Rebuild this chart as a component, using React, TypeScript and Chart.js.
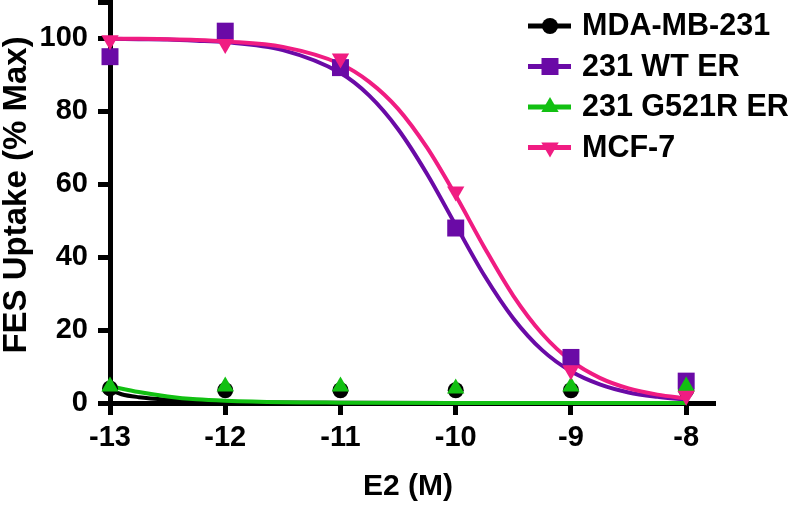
import React, { useEffect, useRef } from 'react';
import { Chart, registerables } from 'chart.js';

Chart.register(...registerables);

// ---- data ----
const seriesLabels = ['MDA-MB-231', '231 WT ER', '231 G521R ER', 'MCF-7'];
const seriesColors = ['#000000', '#6a0aa6', '#12c012', '#f01c82'];
const seriesMarkers = ['circle', 'rect', 'triangle', 'invTriangle'];

const doseLog = [-13, -12, -11, -10, -9, -8];
const xTickLabels = ['-13', '-12', '-11', '-10', '-9', '-8'];
const yTickValues = [0, 20, 40, 60, 80, 100];

const mdaValues = [4, 3.5, 3.5, 3.5, 3.5, 3.5];
const wtValues = [95, 102, 92, 48, 12.5, 6];
const g521rValues = [4.5, 4.5, 4.5, 4, 4.5, 4.5];
const mcf7Values = [99.5, 98.5, 94.5, 58, 9, 2];

// fitted curves
const mdaFitX = [-13, -12.9, -12.75, -12.5, -12.25, -12, -11.5, -11, -10, -8];
const mdaFitY = [3.6, 2.4, 1.6, 0.9, 0.5, 0.3, 0.15, 0.08, 0.02, 0];
const g521rFitX = [-13, -12.75, -12.5, -12.25, -12, -11.5, -11, -10, -8];
const g521rFitY = [4.6, 3.0, 1.8, 1.0, 0.6, 0.2, 0.1, 0.02, 0];
const fitX = [-13, -12.75, -12.5, -12.25, -12, -11.5, -11, -10.75, -10.5, -10.25, -10, -9.75, -9.5, -9.25, -9, -8.75, -8.5, -8.25, -8];
const wtFitY = [99.9, 99.8, 99.7, 99.4, 99.0, 96.8, 90.5, 84.3, 75.1, 62.9, 48.8, 34.9, 23.2, 14.5, 8.7, 5.1, 2.9, 1.7, 0.9];
const mcf7FitY = [99.9, 99.9, 99.8, 99.6, 99.2, 97.7, 93.0, 88.1, 80.7, 70.1, 56.9, 42.6, 29.4, 19.0, 11.6, 6.9, 4.0, 2.3, 1.3];

const xTitle = 'E2 (M)';
const yTitle = 'FES Uptake (% Max)';

const FONT = '"Liberation Sans", Arial, Helvetica, sans-serif';

function pts(xs: number[], ys: number[]) {
  return xs.map((x, i) => ({ x, y: ys[i] }));
}

function drawMarker(ctx: CanvasRenderingContext2D, kind: string, x: number, y: number, color: string) {
  ctx.save();
  ctx.fillStyle = color;
  ctx.beginPath();
  if (kind === 'circle') {
    ctx.arc(x, y, 8, 0, Math.PI * 2);
  } else if (kind === 'rect') {
    ctx.rect(x - 8.5, y - 8.5, 17, 17);
  } else if (kind === 'triangle') {
    ctx.moveTo(x, y - 10);
    ctx.lineTo(x + 8.7, y + 5);
    ctx.lineTo(x - 8.7, y + 5);
  } else {
    ctx.moveTo(x, y + 10);
    ctx.lineTo(x + 8.7, y - 5);
    ctx.lineTo(x - 8.7, y - 5);
  }
  ctx.closePath();
  ctx.fill();
  ctx.restore();
}

const overlayPlugin = {
  id: 'overlay',
  afterDraw(chart: any) {
    const ctx: CanvasRenderingContext2D = chart.ctx;
    // legend
    ctx.save();
    seriesLabels.forEach((label, i) => {
      const y = 26 + i * 40.5;
      ctx.strokeStyle = seriesColors[i];
      ctx.lineWidth = 5;
      ctx.beginPath();
      ctx.moveTo(528, y);
      ctx.lineTo(571, y);
      ctx.stroke();
      drawMarker(ctx, seriesMarkers[i], 550, y, seriesColors[i]);
      ctx.fillStyle = '#000';
      ctx.font = `bold 30.5px ${FONT}`;
      ctx.textBaseline = 'middle';
      ctx.textAlign = 'left';
      ctx.fillText(label, 582, y + 1);
    });
    // axis titles
    ctx.fillStyle = '#000';
    ctx.font = `bold 30px ${FONT}`;
    ctx.textAlign = 'center';
    ctx.textBaseline = 'middle';
    ctx.fillText(xTitle, 408, 487);
    ctx.font = `bold 33px ${FONT}`;
    ctx.translate(17, 195);
    ctx.rotate(-Math.PI / 2);
    ctx.fillText(yTitle, 0, 0);
    ctx.restore();
  },
};

export default function App() {
  const canvasRef = useRef<HTMLCanvasElement | null>(null);

  useEffect(() => {
    document.body.style.margin = '0';
    const canvas = canvasRef.current;
    if (!canvas) return;

    const markerStyle = (i: number) =>
      seriesMarkers[i] === 'invTriangle' ? 'triangle' : seriesMarkers[i];

    const curve = (i: number, data: any[], order: number) => ({
      type: 'line' as const,
      label: seriesLabels[i] + ' fit',
      data,
      borderColor: seriesColors[i],
      borderWidth: 4,
      pointRadius: 0,
      showLine: true,
      fill: false,
      cubicInterpolationMode: 'monotone' as const,
      clip: false as const,
      order,
    });

    const markers = (i: number, values: number[], order: number) => ({
      type: 'scatter' as const,
      label: seriesLabels[i],
      data: pts(doseLog, values),
      showLine: false,
      pointStyle: markerStyle(i),
      rotation: seriesMarkers[i] === 'invTriangle' ? 180 : 0,
      pointRadius: seriesMarkers[i] === 'circle' ? 8 : seriesMarkers[i] === 'rect' ? 12 : 10,
      pointBackgroundColor: seriesColors[i],
      pointBorderColor: seriesColors[i],
      pointBorderWidth: 0,
      clip: false as const,
      order,
    });

    const chart = new Chart(canvas, {
      type: 'scatter',
      data: {
        datasets: [
          markers(3, mcf7Values, 1),
          markers(2, g521rValues, 2),
          markers(1, wtValues, 3),
          markers(0, mdaValues, 4),
          curve(3, pts(fitX, mcf7FitY), 5),
          curve(2, pts(g521rFitX, g521rFitY), 6),
          curve(1, pts(fitX, wtFitY), 7),
          curve(0, pts(mdaFitX, mdaFitY), 8),
        ] as any,
      },
      options: {
        responsive: false,
        animation: false,
        events: [],
        layout: { autoPadding: false, padding: { top: 2, right: 85, left: 0, bottom: 0 } },
        plugins: {
          legend: { display: false },
          tooltip: { enabled: false },
          title: { display: false },
        },
        scales: {
          x: {
            type: 'linear',
            min: -13,
            max: -7.75,
            z: 1,
            afterFit: (s: any) => {
              s.height = 102;
              s.paddingLeft = 0;
              s.paddingRight = 0;
            },
            ticks: {
              stepSize: 1,
              includeBounds: false,
              color: '#000',
              padding: 6,
              maxRotation: 0,
              autoSkip: false,
              font: { family: FONT, size: 29, weight: 'bold' },
              callback: (v: any) => {
                const idx = doseLog.indexOf(Number(v));
                return idx >= 0 ? xTickLabels[idx] : '';
              },
            },
            grid: {
              drawOnChartArea: false,
              drawTicks: true,
              tickLength: 12,
              tickWidth: 5,
              tickColor: '#000',
            },
            border: { display: true, color: '#000', width: 5 },
          },
          y: {
            type: 'linear',
            min: 0,
            max: 110,
            afterFit: (s: any) => {
              s.width = 110;
              s.paddingTop = 0;
              s.paddingBottom = 0;
            },
            ticks: {
              stepSize: 20,
              includeBounds: true,
              color: '#000',
              padding: 10,
              autoSkip: false,
              font: { family: FONT, size: 29, weight: 'bold' },
              callback: (v: any) => (yTickValues.includes(Number(v)) ? String(v) : ''),
            },
            grid: {
              drawOnChartArea: false,
              drawTicks: true,
              tickLength: 12,
              tickWidth: 5,
              tickColor: '#000',
            },
            border: { display: true, color: '#000', width: 5 },
          },
        },
      } as any,
      plugins: [overlayPlugin],
    });

    return () => chart.destroy();
  }, []);

  return (
    <div style={{ width: 800, height: 505, position: 'relative', background: '#fff' }}>
      <canvas ref={canvasRef} width={800} height={505} style={{ display: 'block' }} />
    </div>
  );
}
